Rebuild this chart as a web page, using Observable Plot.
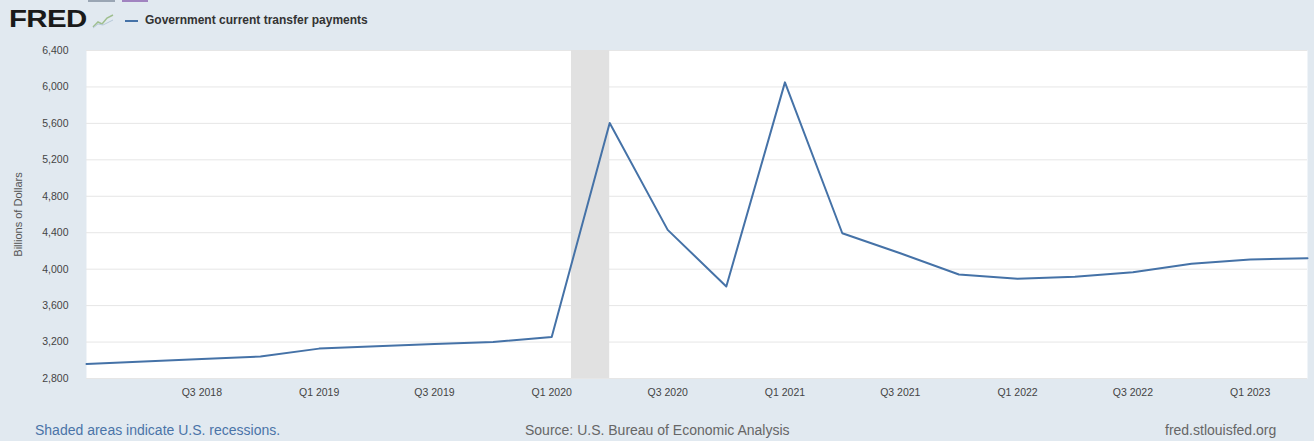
<!DOCTYPE html>
<html><head><meta charset="utf-8">
<script src="https://cdn.jsdelivr.net/npm/d3@7"></script>
<script src="https://cdn.jsdelivr.net/npm/@observablehq/plot@0.6"></script>
<style>
body{margin:0;background:#e1e9f0;width:1314px;height:441px;overflow:hidden;position:relative;font-family:"Liberation Sans",Arial,sans-serif;}
#topbox1{position:absolute;left:88px;top:0;width:27px;height:2px;background:#9aa6b4;}
#topbox2{position:absolute;left:122px;top:0;width:26px;height:2px;background:#a184c0;}
#logo{position:absolute;left:9px;top:6px;font-family:"Liberation Sans",Arial,sans-serif;font-weight:bold;font-size:23px;letter-spacing:-0.5px;color:#1a1a1a;transform:scaleX(1.28);transform-origin:left;}
#icon{position:absolute;left:92px;top:13px;}
#legline{position:absolute;left:125px;top:20px;width:13px;height:2px;background:#4572a7;}
#legtext{position:absolute;left:145px;top:13px;font-size:12px;color:#333;font-weight:bold;}
#chart{position:absolute;left:0;top:44px;}
.foot{position:absolute;top:422px;font-size:14px;color:#666;}
#f1{left:35px;color:#4a74a8;}
#f2{left:525px;}
#f3{left:1165px;}
</style></head><body>
<div id="topbox1"></div><div id="topbox2"></div>
<div id="logo">FRED</div>
<svg id="icon" width="22" height="16"><polyline points="1,14 6,9 10,11 15,5 21,2" fill="none" stroke="#9fbf8f" stroke-width="1.5"/><polyline points="1,15 6,11 11,12 21,7" fill="none" stroke="#b7c9d9" stroke-width="1"/></svg>
<div id="legline"></div>
<div id="legtext">Government current transfer payments</div>
<div id="chart"></div>
<div class="foot" id="f1">Shaded areas indicate U.S. recessions.</div>
<div class="foot" id="f2">Source: U.S. Bureau of Economic Analysis</div>
<div class="foot" id="f3">fred.stlouisfed.org</div>
<script>
const quarters = ["2018-01-01","2018-04-01","2018-07-01","2018-10-01","2019-01-01","2019-04-01","2019-07-01","2019-10-01","2020-01-01","2020-04-01","2020-07-01","2020-10-01","2021-01-01","2021-04-01","2021-07-01","2021-10-01","2022-01-01","2022-04-01","2022-07-01","2022-10-01","2023-01-01","2023-04-01"];
const values = [2960,2987,3013,3041,3128,3153,3179,3200,3255,5605,4431,3810,6050,4394,4175,3942,3894,3916,3967,4059,4106,4120];
const tickDates = ["2018-07-01","2019-01-01","2019-07-01","2020-01-01","2020-07-01","2021-01-01","2021-07-01","2022-01-01","2022-07-01","2023-01-01"];
const tickLabels = ["Q3 2018","Q1 2019","Q3 2019","Q1 2020","Q3 2020","Q1 2021","Q3 2021","Q1 2022","Q3 2022","Q1 2023"];
const yTicks = [2800,3200,3600,4000,4400,4800,5200,5600,6000,6400];
const recessions = [{start:"2020-02-01", end:"2020-04-01"}];

const data = quarters.map((q,i)=>({date:new Date(q), value:values[i]}));
const tickDateObjs = tickDates.map(d=>new Date(d));
const labelOf = new Map(tickDateObjs.map((d,i)=>[+d, tickLabels[i]]));
const rec = recessions.map(r=>({start:new Date(r.start), end:new Date(r.end)}));

const chart = Plot.plot({
  width:1314, height:361,
  marginLeft:86, marginRight:7, marginTop:6, marginBottom:27,
  style:{fontFamily:"'Liberation Sans', Arial, sans-serif", background:"transparent"},
  x:{type:"utc", domain:[new Date(quarters[0]), new Date(quarters[quarters.length-1])]},
  y:{domain:[2800,6400]},
  marks:[
    Plot.frame({fill:"white", stroke:null}),
    Plot.gridY(yTicks, {stroke:"#e6e6e6", strokeOpacity:1, strokeWidth:1}),
    Plot.rectX(rec, {x1:"start", x2:"end", y1:2800, y2:6400, fill:"#e1e1e1"}),
    Plot.line(data, {x:"date", y:"value", stroke:"#4572a7", strokeWidth:2}),
    Plot.axisY(yTicks, {tickSize:0, tickPadding:18, label:null, fontSize:10.5, fill:"#444", tickFormat:d3.format(",")}),
    Plot.axisX(tickDateObjs, {tickSize:0, tickPadding:10, label:null, fontSize:10.5, fill:"#444", tickFormat:d=>labelOf.get(+d)}),
    Plot.text(["Billions of Dollars"], {frameAnchor:"left", dx:-68, rotate:-90, textAnchor:"middle", fontSize:11, fill:"#555"})
  ]
});
document.getElementById("chart").appendChild(chart);
</script>
</body></html>
